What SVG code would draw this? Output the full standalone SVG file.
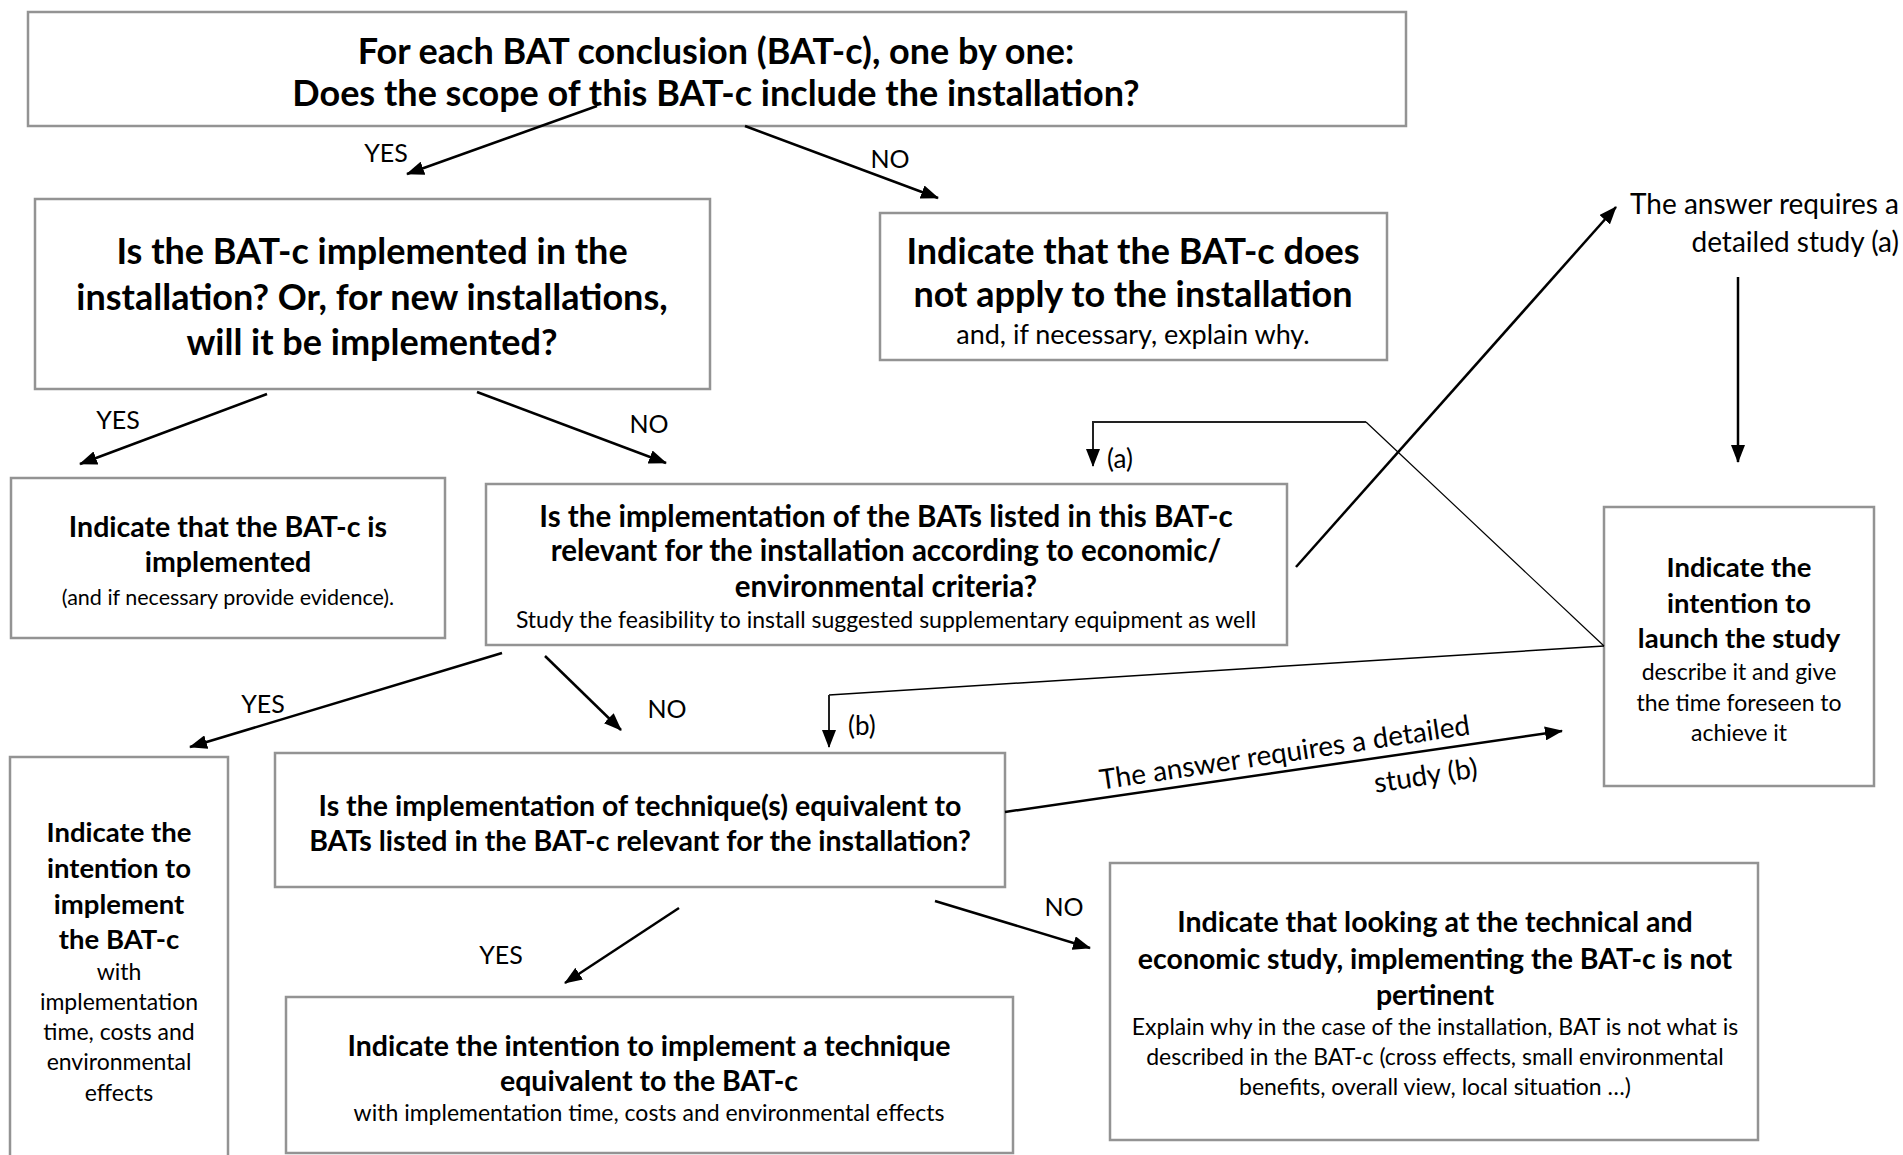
<svg xmlns="http://www.w3.org/2000/svg" width="1903" height="1155" viewBox="0 0 1903 1155">
<defs>
<style>
.box{fill:#fff;stroke:#939393;stroke-width:2.5}
text{font-family:Lato,"Liberation Sans",sans-serif;fill:#000;text-anchor:middle}
.b{font-weight:bold}
.t1{font-size:36px}
.t2{font-size:28.5px}
.t2a{font-size:29.5px}
.t2b{font-size:27.5px}
.r{font-size:23px}
.r6{font-size:21.5px}
.r2{font-size:27px}
.lbl{font-size:25px}
.lbl2{font-size:28px}
.c{fill:none;stroke:#000;stroke-width:2.5}
.thin{fill:none;stroke:#000;stroke-width:1.2}
.mid{fill:none;stroke:#222;stroke-width:2}
</style>
<marker id="ah" markerUnits="userSpaceOnUse" markerWidth="18" markerHeight="14" refX="17" refY="7" orient="auto" viewBox="0 0 18 14">
<path d="M0,0 L18,7 L0,14 z" fill="#000"/>
</marker>
</defs>
<rect width="1903" height="1155" fill="#fff"/>

<g id="n-top">
<rect class="box" x="28" y="12" width="1378" height="114"/>
<text class="b t1" x="716" y="64">For each BAT conclusion (BAT-c), one by one:</text>
<text class="b t1" x="716" y="106">Does the scope of this BAT-c include the installation?</text>
</g>

<g id="n-implemented-q">
<rect class="box" x="35" y="199" width="675" height="190"/>
<text class="b t1" x="372" y="264">Is the BAT-c implemented in the</text>
<text class="b t1" x="372" y="310">installation? Or, for new installations,</text>
<text class="b t1" x="372" y="355">will it be implemented?</text>
</g>

<g id="n-not-apply">
<rect class="box" x="880" y="213" width="507" height="147"/>
<text class="b t1" x="1133" y="264">Indicate that the BAT-c does</text>
<text class="b t1" x="1133" y="307">not apply to the installation</text>
<text class="r2" x="1133" y="344">and, if necessary, explain why.</text>
</g>

<g id="n-study-a-label">
<text class="lbl2" x="1899" y="214" style="text-anchor:end">The answer requires a</text>
<text class="lbl2" x="1899" y="252" style="text-anchor:end">detailed study (a)</text>
</g>

<g id="n-is-implemented">
<rect class="box" x="11" y="478" width="434" height="160"/>
<text class="b t2" x="228" y="537">Indicate that the BAT-c is</text>
<text class="b t2" x="228" y="572">implemented</text>
<text class="r6" x="228" y="605">(and if necessary provide evidence).</text>
</g>

<g id="n-relevant-q">
<rect class="box" x="486" y="484" width="801" height="161"/>
<text class="b t2a" x="886" y="527">Is the implementation of the BATs listed in this BAT-c</text>
<text class="b t2a" x="886" y="561">relevant for the installation according to economic/</text>
<text class="b t2a" x="886" y="597">environmental criteria?</text>
<text class="r" x="886" y="628">Study the feasibility to install suggested supplementary equipment as well</text>
</g>

<g id="n-launch-study">
<rect class="box" x="1604" y="507" width="270" height="279"/>
<text class="b t2b" x="1739" y="577">Indicate the</text>
<text class="b t2b" x="1739" y="613">intention to</text>
<text class="b t2b" x="1739" y="648">launch the study</text>
<text class="r" x="1739" y="680">describe it and give</text>
<text class="r" x="1739" y="711">the time foreseen to</text>
<text class="r" x="1739" y="741">achieve it</text>
</g>

<g id="n-implement-bat">
<rect class="box" x="10" y="757" width="218" height="420"/>
<text class="b t2b" x="119" y="842">Indicate the</text>
<text class="b t2b" x="119" y="878">intention to</text>
<text class="b t2b" x="119" y="914">implement</text>
<text class="b t2b" x="119" y="949">the BAT-c</text>
<text class="r" x="119" y="980">with</text>
<text class="r" x="119" y="1010">implementation</text>
<text class="r" x="119" y="1040">time, costs and</text>
<text class="r" x="119" y="1070">environmental</text>
<text class="r" x="119" y="1101">effects</text>
</g>

<g id="n-equivalent-q">
<rect class="box" x="275" y="753" width="730" height="134"/>
<text class="b t2" x="640" y="816">Is the implementation of technique(s) equivalent to</text>
<text class="b t2" x="640" y="851">BATs listed in the BAT-c relevant for the installation?</text>
</g>

<g id="n-implement-equivalent">
<rect class="box" x="286" y="997" width="727" height="156"/>
<text class="b t2" x="649" y="1056">Indicate the intention to implement a technique</text>
<text class="b t2" x="649" y="1091">equivalent to the BAT-c</text>
<text class="r" x="649" y="1121">with implementation time, costs and environmental effects</text>
</g>

<g id="n-not-pertinent">
<rect class="box" x="1110" y="863" width="648" height="277"/>
<text class="b t2" x="1435" y="932">Indicate that looking at the technical and</text>
<text class="b t2" x="1435" y="969">economic study, implementing the BAT-c is not</text>
<text class="b t2" x="1435" y="1005">pertinent</text>
<text class="r" x="1435" y="1035">Explain why in the case of the installation, BAT is not what is</text>
<text class="r" x="1435" y="1065">described in the BAT-c (cross effects, small environmental</text>
<text class="r" x="1435" y="1095">benefits, overall view, local situation …)</text>
</g>

<g id="connectors">
<line class="c" x1="597" y1="106" x2="407" y2="174" marker-end="url(#ah)"/>
<line class="c" x1="745" y1="126" x2="938" y2="198" marker-end="url(#ah)"/>
<line class="c" x1="267" y1="394" x2="80" y2="464" marker-end="url(#ah)"/>
<line class="c" x1="477" y1="392" x2="666" y2="463" marker-end="url(#ah)"/>
<line class="c" x1="502" y1="653" x2="190" y2="747" marker-end="url(#ah)"/>
<line class="c" x1="545" y1="656" x2="621" y2="730" marker-end="url(#ah)"/>
<line class="c" x1="679" y1="908" x2="565" y2="983" marker-end="url(#ah)"/>
<line class="c" x1="935" y1="901" x2="1090" y2="948" marker-end="url(#ah)"/>
<line class="c" x1="1296" y1="567" x2="1616" y2="207" marker-end="url(#ah)"/>
<line class="c" x1="1738" y1="277" x2="1738" y2="462" marker-end="url(#ah)"/>
<line class="c" x1="1005" y1="812" x2="1562" y2="731" marker-end="url(#ah)"/>
<line class="thin" x1="1604" y1="646" x2="1366" y2="422"/>
<path class="mid" d="M1366,422 L1093,422 L1093,466" marker-end="url(#ah)"/>
<path class="thin" d="M1604,646 L829,695" style="stroke-width:1.5"/>
<path class="mid" d="M829,695 L829,747" marker-end="url(#ah)"/>
<text class="lbl" x="386" y="162">YES</text>
<text class="lbl" x="890" y="168">NO</text>
<text class="lbl" x="118" y="429">YES</text>
<text class="lbl" x="649" y="433">NO</text>
<text class="lbl" x="263" y="713">YES</text>
<text class="lbl" x="667" y="718">NO</text>
<text class="lbl" x="501" y="964">YES</text>
<text class="lbl" x="1064" y="916">NO</text>
<text class="lbl" x="1107" y="468" style="text-anchor:start;font-size:26px">(a)</text>
<text class="lbl" x="848" y="735" style="text-anchor:start;font-size:26px">(b)</text>
<text class="lbl2" transform="translate(1286,762) rotate(-8.5)">The answer requires a detailed</text>
<text class="lbl2" transform="translate(1427,785) rotate(-8.5)">study (b)</text>
</g>
</svg>
